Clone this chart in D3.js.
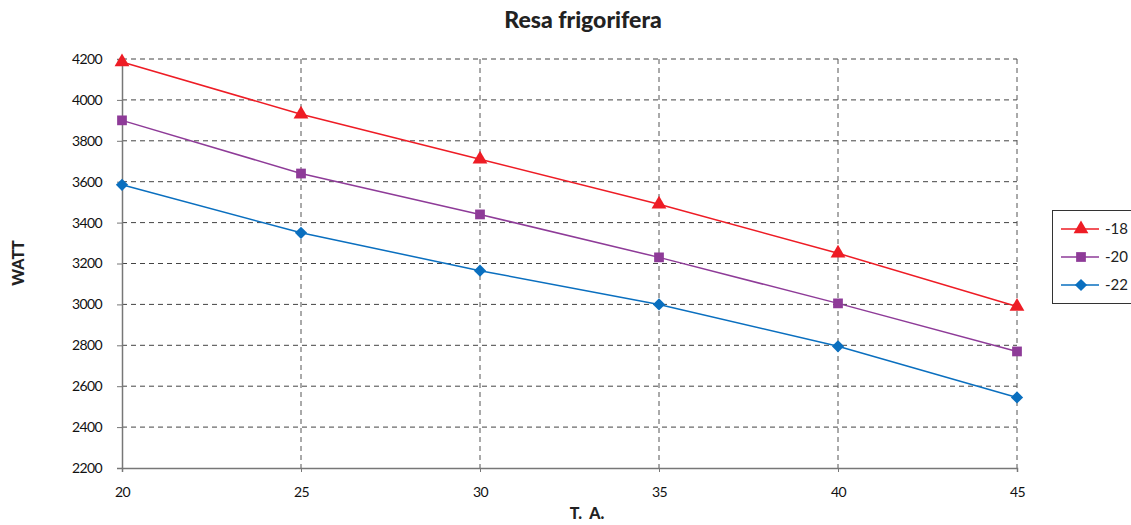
<!DOCTYPE html>
<html><head><meta charset="utf-8">
<script src="https://cdn.jsdelivr.net/npm/d3@7"></script>
<style>body{margin:0;background:#fff}svg{display:block}</style>
</head><body>
<svg id="c" width="1131" height="525"></svg>
<script>
const xValues = [20, 25, 30, 35, 40, 45];
const s18 = [4185, 3930, 3710, 3490, 3250, 2990];
const s20 = [3900, 3640, 3440, 3230, 3005, 2770];
const s22 = [3585, 3350, 3165, 3000, 2795, 2545];
const seriesNames = ["-18", "-20", "-22"];
const yTicks = [2200, 2400, 2600, 2800, 3000, 3200, 3400, 3600, 3800, 4000, 4200];
const xTicks = [20, 25, 30, 35, 40, 45];
const title = "Resa frigorifera", xTitle = "T.  A.", yTitle = "WATT";

const series = [
  {name: seriesNames[0], vals: s18, color: "#ee1c25", sym: d3.symbolTriangle, size: 95, rot: 0},
  {name: seriesNames[1], vals: s20, color: "#8e3b98", sym: d3.symbolSquare, size: 95, rot: 0},
  {name: seriesNames[2], vals: s22, color: "#0a6fbf", sym: d3.symbolSquare, size: 75, rot: 45}
];
const svg = d3.select("#c");
const font = "Lato, 'Open Sans', sans-serif";
const x = d3.scaleLinear().domain([20, 45]).range([122, 1017]);
const y = d3.scaleLinear().domain([2200, 4200]).range([468, 59]);

// grid
svg.append("g").selectAll("line").data(yTicks.slice(1)).join("line")
  .attr("x1", x(20)).attr("x2", x(45)).attr("y1", d => y(d)).attr("y2", d => y(d))
  .attr("stroke", "#444").attr("stroke-width", 1).attr("stroke-dasharray", "5,4");
svg.append("g").selectAll("line").data(xTicks.slice(1)).join("line")
  .attr("x1", d => x(d)).attr("x2", d => x(d)).attr("y1", y(4200)).attr("y2", y(2200) + 4)
  .attr("stroke", "#555").attr("stroke-width", 1).attr("stroke-dasharray", "5,4");

// axes
const ya = svg.append("g").attr("transform", `translate(${x(20)},0)`)
  .call(d3.axisLeft(y).tickValues(yTicks).tickSize(5).tickFormat(d3.format("d")));
const xa = svg.append("g").attr("transform", `translate(0,${y(2200)})`)
  .call(d3.axisBottom(x).tickValues(xTicks).tickSize(4).tickFormat(d3.format("d")));
[ya, xa].forEach(a => {
  a.select(".domain").attr("stroke", "#777").attr("stroke-width", 1.5);
  a.selectAll(".tick line").attr("stroke", "#777");
  a.selectAll("text").attr("font-family", font).attr("font-size", 14).attr("fill", "#111")
   .attr("letter-spacing", "-0.6");
});
ya.selectAll("text").attr("x", -20);
xa.selectAll("text").attr("y", 19);

// lines & markers
const line = d3.line().x((d, i) => x(xValues[i])).y(d => y(d));
series.forEach(s => {
  svg.append("path").datum(s.vals).attr("d", line).attr("fill", "none")
    .attr("stroke", s.color).attr("stroke-width", 1.5);
  svg.append("g").selectAll("path").data(s.vals).join("path")
    .attr("transform", (d, i) => `translate(${x(xValues[i])},${y(d)}) rotate(${s.rot})`)
    .attr("d", d3.symbol().type(s.sym).size(s.size)).attr("fill", s.color);
});

// titles
svg.append("text").attr("x", 583).attr("y", 28).attr("text-anchor", "middle")
  .attr("font-family", font).attr("font-weight", 900).attr("font-size", 23).attr("fill", "#222").text(title);
svg.append("text").attr("x", 587).attr("y", 519).attr("text-anchor", "middle").attr("xml:space", "preserve")
  .attr("font-family", font).attr("font-weight", 900).attr("font-size", 16).attr("fill", "#222").text(xTitle);
svg.append("text").attr("transform", "translate(24,263) rotate(-90)").attr("text-anchor", "middle")
  .attr("font-family", font).attr("font-weight", 900).attr("font-size", 16).attr("fill", "#222").text(yTitle);

// legend
const lg = svg.append("g").attr("transform", "translate(1052,210)");
lg.append("rect").attr("x", 0.5).attr("y", 0.5).attr("width", 85).attr("height", 93)
  .attr("fill", "#fff").attr("stroke", "#333").attr("stroke-width", 1);
series.forEach((s, i) => {
  const yy = 19 + i * 28;
  lg.append("line").attr("x1", 9).attr("x2", 47).attr("y1", yy).attr("y2", yy)
    .attr("stroke", s.color).attr("stroke-width", 1.5);
  lg.append("path").attr("transform", `translate(29,${yy}) rotate(${s.rot})`)
    .attr("d", d3.symbol().type(s.sym).size(s.size)).attr("fill", s.color);
  lg.append("text").attr("x", 53).attr("y", yy + 5).attr("font-family", font)
    .attr("font-size", 15).attr("fill", "#222").text(s.name);
});
</script>
</body></html>
